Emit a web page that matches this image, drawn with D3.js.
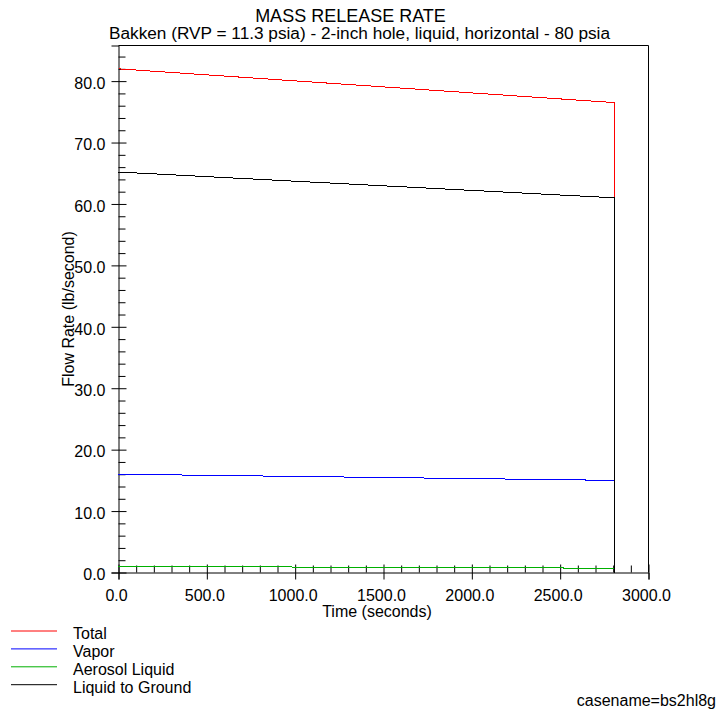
<!DOCTYPE html>
<html lang="en">
<head>
<meta charset="UTF-8">
<title>Mass Release Rate</title>
<script src="https://d3js.org/d3.v7.min.js"></script>
<style>
  body { margin: 0; background: #fff; font-family: "Liberation Sans", Arial, sans-serif; }
  text { fill: #000; }
</style>
</head>
<body>
<svg id="chart" width="719" height="717"></svg>
<script>
const titleText = "MASS RELEASE RATE";
const subtitleText = "Bakken (RVP = 11.3 psia) - 2-inch hole, liquid, horizontal - 80 psia";
const xLabel = "Time (seconds)";
const yLabel = "Flow Rate (lb/second)";
const caseName = "casename=bs2hl8g";

// time (s) of each point, the release ends at about 2808 s
const time = [0, 2808, 2808];
const total = [82.0, 76.5, 0];
const vapor = [16.0, 15.0, 0];
const aerosolLiquid = [1.0, 0.7, 0];
const liquidToGround = [65.2, 61.0, 0];

const seriesNames = ["Total", "Vapor", "Aerosol Liquid", "Liquid to Ground"];
const seriesValues = [total, vapor, aerosolLiquid, liquidToGround];
const seriesColors = ["#ff0000", "#0000ff", "#00b000", "#000000"];

const xTicks = [0, 500, 1000, 1500, 2000, 2500, 3000];
const yTicks = [0, 10, 20, 30, 40, 50, 60, 70, 80];

const svg = d3.select("#chart");

const x = d3.scaleLinear().domain([0, 3000]).range([118.5, 648.5]);
const y = d3.scaleLinear().domain([0, 85.8]).range([572.5, 45.5]);

// frame (top + right)
svg.append("line").attr("x1", x(0)).attr("x2", x(3000)).attr("y1", y(85.8)).attr("y2", y(85.8)).attr("stroke", "#000");
svg.append("line").attr("x1", x(3000)).attr("x2", x(3000)).attr("y1", y(85.8)).attr("y2", y(0)).attr("stroke", "#000");

// minor ticks
const xMinor = d3.range(0, 3001, 100).filter(d => d % 500 !== 0);
const yMinor = d3.range(0, 85, 2).filter(d => d % 10 !== 0);

svg.append("g")
    .attr("transform", `translate(0,${y(0)})`)
    .call(d3.axisBottom(x).tickValues(xMinor).tickSize(-7).tickFormat(""))
    .call(g => g.select(".domain").remove());

svg.append("g")
    .attr("transform", `translate(${x(0)},0)`)
    .call(d3.axisLeft(y).tickValues(yMinor).tickSize(-7).tickFormat(""))
    .call(g => g.select(".domain").remove());

// major ticks + labels
svg.append("g")
    .attr("transform", `translate(0,${y(0)})`)
    .call(d3.axisBottom(x).tickValues(xTicks).tickSizeOuter(0).tickSize(7).tickPadding(10)
        .tickFormat(d => d.toFixed(1)))
    .call(g => g.selectAll(".tick line").attr("y1", -8))
    .call(g => g.selectAll(".tick text").attr("x", -2.5).attr("font-size", "16px")
        .attr("font-family", "Liberation Sans, Arial, sans-serif"));

svg.append("g")
    .attr("transform", `translate(${x(0)},0)`)
    .call(d3.axisLeft(y).tickValues(yTicks).tickSizeOuter(0).tickSize(7).tickPadding(6)
        .tickFormat(d => d.toFixed(1)))
    .call(g => g.selectAll(".tick line").attr("x1", 8))
    .call(g => g.selectAll(".tick text").attr("dy", "0.45em").attr("font-size", "16px")
        .attr("font-family", "Liberation Sans, Arial, sans-serif"));

svg.selectAll(".domain").attr("stroke", "#000");

// series
const line = d3.line().x((d, i) => x(time[i])).y(d => y(d));
seriesValues.forEach((vals, k) => {
    svg.append("path")
        .datum(vals)
        .attr("d", line)
        .attr("fill", "none")
        .attr("stroke", seriesColors[k])
        .attr("stroke-width", 1)
        .attr("shape-rendering", "crispEdges");
});

// titles
svg.append("text").attr("x", 350.5).attr("y", 21.5).attr("text-anchor", "middle")
    .attr("font-size", "18px").text(titleText);
svg.append("text").attr("x", 359.5).attr("y", 39).attr("text-anchor", "middle")
    .attr("font-size", "16px").attr("textLength", 501).attr("lengthAdjust", "spacingAndGlyphs")
    .text(subtitleText);

svg.append("text").attr("x", 377).attr("y", 616.5).attr("text-anchor", "middle")
    .attr("font-size", "16px").text(xLabel);

svg.append("text")
    .attr("transform", `translate(73.5,${(y(0) + y(85.8)) / 2}) rotate(-90)`)
    .attr("text-anchor", "middle").attr("font-size", "16px").text(yLabel);

// legend
const legend = svg.append("g");
seriesNames.forEach((name, k) => {
    const ly = 631 + k * 17.9;
    legend.append("line").attr("x1", 11).attr("x2", 57).attr("y1", ly).attr("y2", ly)
        .attr("stroke", seriesColors[k]).attr("stroke-width", 1);
    legend.append("text").attr("x", 73).attr("y", ly + 8).attr("font-size", "16px").text(name);
});

svg.append("text").attr("x", 716).attr("y", 706).attr("text-anchor", "end")
    .attr("font-size", "16px").text(caseName);
</script>
</body>
</html>
